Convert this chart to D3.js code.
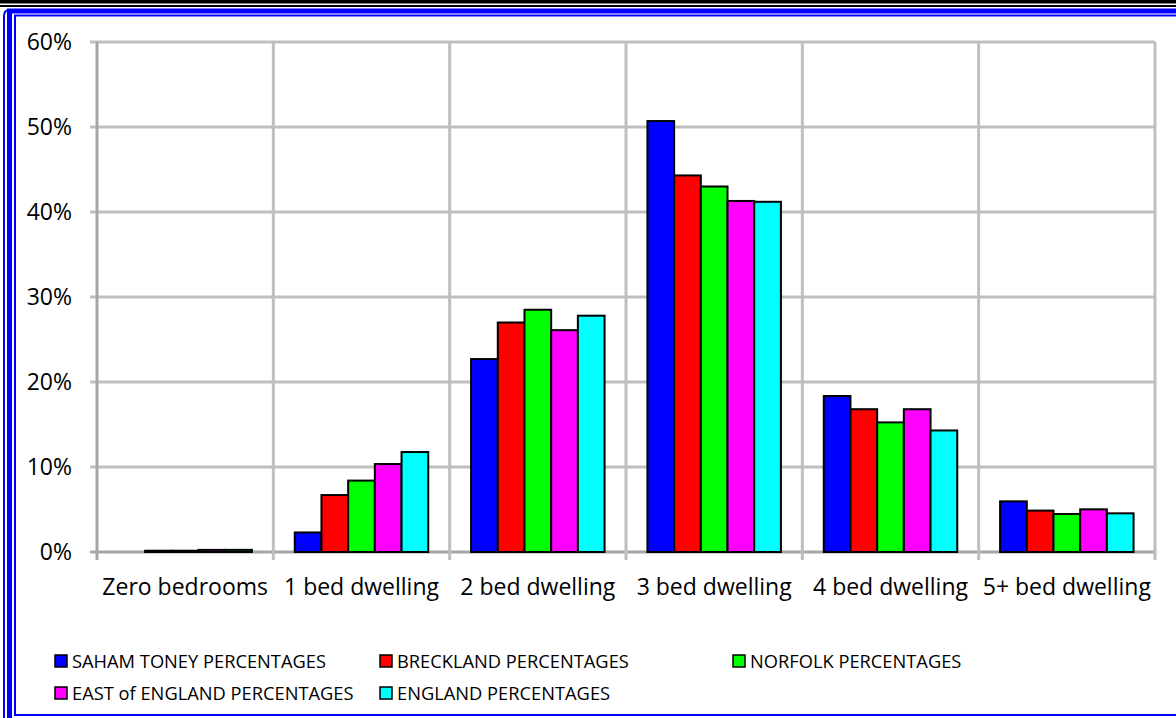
<!DOCTYPE html>
<html><head><meta charset="utf-8">
<script src="https://cdn.jsdelivr.net/npm/d3@7"></script>
<style>html,body{margin:0;padding:0;background:#fff;}svg{display:block;}</style>
</head><body>
<svg id="chart" width="1176" height="718"></svg>
<script>
const categories = ["Zero bedrooms","1 bed dwelling","2 bed dwelling","3 bed dwelling","4 bed dwelling","5+ bed dwelling"];
const seriesNames = ["SAHAM TONEY PERCENTAGES","BRECKLAND PERCENTAGES","NORFOLK PERCENTAGES","EAST of ENGLAND PERCENTAGES","ENGLAND PERCENTAGES"];
const seriesColors = ["#0000ff","#ff0000","#00ff00","#ff00ff","#00ffff"];
const sahamToney   = [0.0, 2.3, 22.7, 50.7, 18.35, 5.96];
const breckland    = [0.15, 6.7, 27.0, 44.3, 16.8, 4.87];
const norfolk      = [0.15, 8.4, 28.5, 43.0, 15.25, 4.47];
const eastEngland  = [0.25, 10.35, 26.1, 41.3, 16.8, 5.02];
const england      = [0.25, 11.76, 27.8, 41.2, 14.3, 4.55];
const yTicks = [0,10,20,30,40,50,60];
const seriesValues = [sahamToney, breckland, norfolk, eastEngland, england];

(function(){
const svg = d3.select("#chart");
const FONT = "'Open Sans', 'DejaVu Sans', sans-serif";

// frame
svg.append("rect").attr("x",0).attr("y",0).attr("width",1176).attr("height",718).attr("fill","#fff");
svg.append("rect").attr("x",0).attr("y",0).attr("width",1176).attr("height",3.5).attr("fill","#000");
svg.append("rect").attr("x",0).attr("y",5).attr("width",1176).attr("height",2).attr("fill","#000");
svg.append("path").attr("d","M4,718 L4,16 Q4,11 8,10").attr("fill","none").attr("stroke","#0000ff").attr("stroke-width",2);
svg.append("rect").attr("x",9.5).attr("y",11).attr("width",1300).attr("height",800).attr("fill","none").attr("stroke","#0000ff").attr("stroke-width",5);
svg.append("rect").attr("x",15).attr("y",15.5).attr("width",1300).attr("height",699.5).attr("fill","none").attr("stroke","#0000ff").attr("stroke-width",2);

const pLeft = 97, pRight = 1155, pTop = 42, pBottom = 552;
const x0 = d3.scaleBand().domain(categories).range([pLeft,pRight]).paddingInner(0.243).paddingOuter(0.1215);
const x1 = d3.scaleBand().domain(seriesNames).range([0,x0.bandwidth()]);
const y = d3.scaleLinear().domain([0,60]).range([pBottom,pTop]);
const step = (pRight-pLeft)/categories.length;

const grid = svg.append("g");
grid.selectAll("line.h").data(yTicks).join("line")
  .attr("x1",pLeft-7).attr("x2",pRight).attr("y1",d=>y(d)).attr("y2",d=>y(d))
  .attr("stroke",d=>d===0?"#a6a6a6":"#bfbfbf").attr("stroke-width",3);
const bounds = d3.range(categories.length+1).map(i=>pLeft+i*step);
grid.selectAll("line.v").data(bounds).join("line")
  .attr("x1",d=>d).attr("x2",d=>d).attr("y1",pTop).attr("y2",pBottom+8)
  .attr("stroke",(d,i)=>i===0?"#a6a6a6":"#bfbfbf").attr("stroke-width",3);

svg.append("g").selectAll("text").data(yTicks).join("text")
  .attr("x",72).attr("y",d=>y(d)+8).attr("text-anchor","end")
  .attr("font-family",FONT).attr("font-size",23).attr("fill","#000")
  .text(d=>d+"%");

svg.append("g").selectAll("text").data(categories).join("text")
  .attr("x",d=>x0(d)+x0.bandwidth()/2).attr("y",595).attr("text-anchor","middle")
  .attr("font-family",FONT).attr("font-size",23).attr("fill","#000")
  .text(d=>d);

const groups = svg.append("g").selectAll("g").data(categories).join("g")
  .attr("transform",d=>`translate(${x0(d)},0)`);
groups.selectAll("rect").data((c,ci)=>seriesNames.map((s,si)=>({s,si,v:seriesValues[si][ci]})))
  .join("rect")
  .attr("x",d=>x1(d.s)).attr("width",x1.bandwidth())
  .attr("y",d=>y(d.v)).attr("height",d=>pBottom-y(d.v))
  .attr("fill",d=>seriesColors[d.si]).attr("stroke","#000").attr("stroke-width",d=>d.v>0?2:0);

const legendPos = [[54,661],[379,661],[732,661],[54,693],[379,693]];
const lg = svg.append("g").selectAll("g").data(seriesNames).join("g")
  .attr("transform",(d,i)=>`translate(${legendPos[i][0]},${legendPos[i][1]})`);
lg.append("rect").attr("x",1).attr("y",-6).attr("width",12).attr("height",12)
  .attr("fill",(d,i)=>seriesColors[i]).attr("stroke","#000").attr("stroke-width",1.5);
lg.append("text").attr("x",18).attr("y",7).attr("font-family",FONT).attr("font-size",18.3).attr("fill","#000").text(d=>d);
})();
</script>
</body></html>
